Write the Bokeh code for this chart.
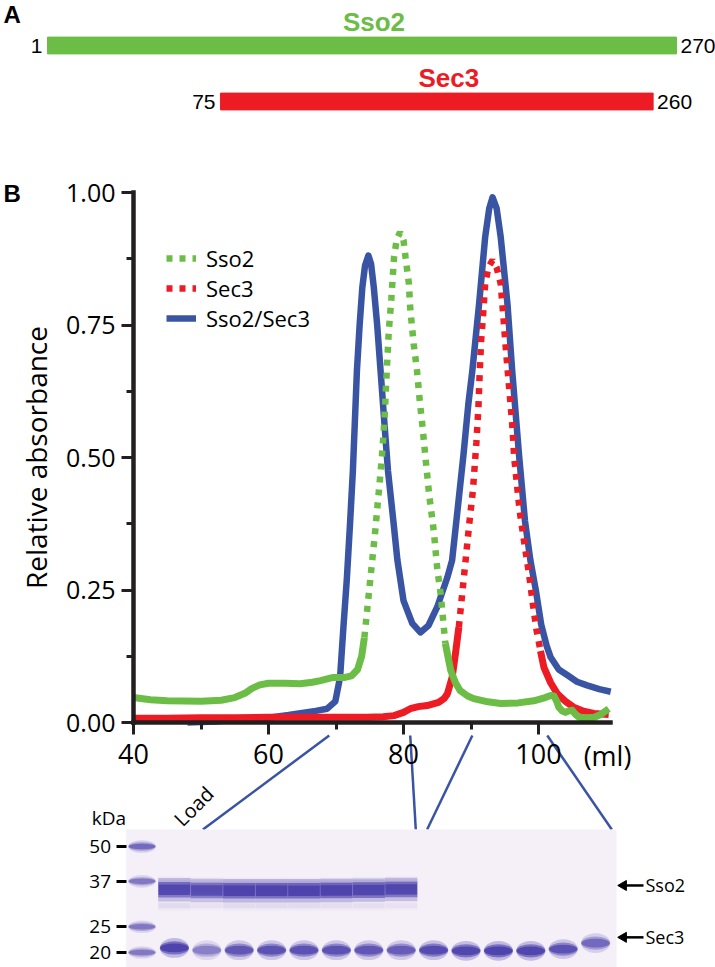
import math
from bokeh.plotting import figure
from bokeh.models import (Range1d, LinearAxis, FixedTicker, PrintfTickFormatter,
                          LogScale, Legend, LegendItem, ColumnDataSource)
from bokeh.core.properties import value
from bokeh.embed import file_html
from bokeh.resources import INLINE

# ---------------- data ----------------
# Panel A: construct boundaries (residue numbers)
construct_names = ["Sso2", "Sec3"]
construct_start = [1, 75]
construct_end = [270, 260]

# Panel B: gel-filtration profiles (elution volume in ml, relative absorbance)
sso2_ml = [40.0, 42.5, 45.0, 50.0, 53.0, 55.0, 56.5, 57.5, 58.7, 60.0, 62.5, 64.7, 66.5, 67.7,
           69.6, 71.3, 72.3, 73.2, 73.8, 74.2, 74.6, 75.0, 75.4, 75.8, 76.3, 76.8, 77.2, 77.5,
           77.8, 78.2, 78.6, 79.0, 79.5, 80.0, 80.3, 80.8, 81.0, 81.5, 82.0, 82.4, 82.8, 83.3,
           83.8, 84.5, 85.0, 85.5, 86.2, 87.0, 87.7, 88.4, 89.5, 90.4, 92.5, 94.4, 97.0, 99.3,
           101.0, 101.8, 102.3, 102.7, 103.0, 103.5, 104.0, 104.5, 105.0, 105.5, 106.0, 107.2,
           108.3, 109.2, 110.4]
sso2_abs = [0.047, 0.043, 0.041, 0.040, 0.042, 0.047, 0.055, 0.064, 0.071, 0.074, 0.074, 0.073,
            0.076, 0.079, 0.085, 0.085, 0.088, 0.100, 0.125, 0.160, 0.210, 0.260, 0.310, 0.360,
            0.430, 0.500, 0.576, 0.658, 0.734, 0.800, 0.878, 0.912, 0.925, 0.910, 0.878, 0.828,
            0.781, 0.715, 0.664, 0.608, 0.560, 0.494, 0.430, 0.360, 0.290, 0.243, 0.149, 0.098,
            0.075, 0.060, 0.050, 0.045, 0.039, 0.036, 0.037, 0.041, 0.047, 0.051, 0.050, 0.040,
            0.029, 0.022, 0.019, 0.022, 0.023, 0.015, 0.010, 0.009, 0.010, 0.015, 0.026]

sec3_ml = [40.0, 45.0, 50.0, 55.0, 60.0, 65.0, 70.0, 74.6, 77.0, 78.6, 80.0, 81.0, 82.2, 83.5,
           85.2, 86.0, 86.5, 87.2, 87.7, 88.2, 88.7, 89.2, 89.7, 90.3, 90.8, 91.1, 91.3, 91.5,
           91.8, 92.1, 92.6, 93.2, 93.8, 94.4, 94.8, 95.1, 95.6, 96.1, 96.4, 97.2, 98.0, 98.6,
           99.2, 99.7, 100.3, 100.8, 101.8, 102.8, 104.0, 105.2, 106.5, 108.2, 110.4]
sec3_abs = [0.008, 0.008, 0.009, 0.009, 0.010, 0.010, 0.010, 0.010, 0.011, 0.013, 0.019, 0.026,
            0.030, 0.032, 0.038, 0.045, 0.054, 0.085, 0.130, 0.180, 0.243, 0.306, 0.370, 0.440,
            0.529, 0.595, 0.664, 0.720, 0.771, 0.828, 0.860, 0.872, 0.858, 0.828, 0.765, 0.715,
            0.639, 0.564, 0.500, 0.400, 0.330, 0.280, 0.220, 0.175, 0.135, 0.104, 0.075, 0.054,
            0.040, 0.029, 0.022, 0.017, 0.015]

complex_ml = [48.0, 52.0, 56.0, 60.0, 63.0, 65.0, 67.0, 68.7, 69.9, 70.6, 71.1, 71.6, 72.1, 72.5,
              73.1, 73.5, 73.9, 74.3, 74.8, 75.2, 75.6, 76.1, 76.6, 77.2, 77.7, 78.5, 79.1, 80.0,
              81.3, 82.5, 83.7, 85.0, 86.5, 87.2, 88.0, 88.9, 89.6, 90.2, 91.2, 92.1, 92.7, 93.2,
              93.8, 94.4, 95.4, 96.1, 97.1, 98.0, 98.8, 99.6, 100.4, 101.2, 101.8, 103.0, 104.3,
              105.7, 107.2, 109.0, 110.7]
complex_abs = [0.000, 0.002, 0.006, 0.009, 0.014, 0.018, 0.022, 0.026, 0.040, 0.085, 0.180, 0.270,
               0.380, 0.475, 0.664, 0.750, 0.821, 0.862, 0.881, 0.865, 0.821, 0.750, 0.664, 0.560,
               0.475, 0.380, 0.306, 0.230, 0.187, 0.170, 0.183, 0.218, 0.274, 0.306, 0.400, 0.507,
               0.600, 0.664, 0.790, 0.916, 0.970, 0.991, 0.970, 0.916, 0.790, 0.664, 0.507, 0.380,
               0.306, 0.250, 0.185, 0.145, 0.123, 0.100, 0.089, 0.077, 0.070, 0.063, 0.058]

series_labels = ["Sso2", "Sec3", "Sso2/Sec3"]
x_ticks = [40, 60, 80, 100]
x_minor_ticks = [50, 70, 90]
y_ticks = [0.0, 0.25, 0.5, 0.75, 1.0]
y_minor_ticks = [0.125, 0.375, 0.625, 0.875]
x_axis_end = 110.7

# Fractions analysed on the gel: elution-volume windows -> gel lanes they were loaded in
fraction_ml_edges = [69.0, 81.0, 90.2, 101.3]
fraction_lane_edges = [1.88, 8.45, 8.8, 14.5]

# Gel (SDS-PAGE): lane 0 = marker, lane 1 = load, lanes 2..14 = fractions
marker_kda = [50, 37, 25, 20]
marker_intensity = [0.6, 0.5, 0.5, 0.5]
sso2_band_lanes = [1, 2, 3, 4, 5, 6, 7, 8]
sso2_band_intensity = [0.9, 0.85, 1.0, 1.0, 1.0, 1.0, 0.95, 0.92]
sso2_band_kda = [34.4, 34.2, 34.1, 34.1, 34.1, 34.2, 34.3, 34.5]
sec3_band_lanes = [1, 2, 3, 4, 5, 6, 7, 8, 9, 10, 11, 12, 13, 14]
sec3_band_intensity = [1.0, 0.45, 0.75, 0.8, 0.8, 0.8, 0.75, 0.7, 0.9, 0.95, 1.0, 0.97, 0.8, 0.6]
sec3_band_kda = [20.8, 20.4, 20.4, 20.4, 20.4, 20.4, 20.4, 20.4, 20.4, 20.3, 20.3, 20.3, 20.6, 21.7]
minor_band_lanes = [1, 2, 3, 4, 5, 6, 7, 8]
minor_band_kda = [30.0, 30.0, 30.0, 30.0, 30.0, 30.0, 30.0, 30.0]
minor_band_intensity = [0.06, 0.04, 0.06, 0.06, 0.06, 0.05, 0.05, 0.04]
gel_band_names = ["Sso2", "Sec3"]
gel_band_label_kda = [35.7, 22.8]
load_label = "Load"

# ---------------- layout (page pixels) ----------------
X0, Y0, W, H = 0, 0, 715, 967

def lin(v1, p1, v2, p2):
    s = (v2 - v1) / (p2 - p1)
    return lambda px: v1 + (px - p1) * s

ml_at = lin(40, 133, 100, 538)
abs_at = lin(0, 722, 1, 192)
res_at = lin(1, 47, 270, 676)
row_at = lin(0, 45, 1, 101)
lane_at = lin(0, 141.5, 1, 173.9)
px_of_lane = lin(141.5, 0, 173.9, 1)
lnk_at = lin(math.log(50), 846, math.log(20), 952)
kda_at = lambda py: math.exp(lnk_at(py))

GREEN = "#6cbd45"
RED = "#ed1c24"
BLUE = "#3a54a4"
BAND = "#4a3fab"
FONT = value("Open Sans")

p = figure(width=W, height=H,
           x_range=Range1d(ml_at(X0), ml_at(X0 + W)),
           y_range=Range1d(abs_at(Y0 + H), abs_at(Y0)),
           x_axis_type=None, y_axis_type=None,
           toolbar_location=None, output_backend="svg")
p.title.visible = False
p.min_border = 0
p.min_border_left = p.min_border_right = p.min_border_top = p.min_border_bottom = 0
p.outline_line_color = None
p.background_fill_color = "white"
p.border_fill_color = "white"

p.extra_x_ranges = {"res": Range1d(res_at(X0), res_at(X0 + W)),
                    "lane": Range1d(lane_at(X0), lane_at(X0 + W))}
p.extra_y_ranges = {"row": Range1d(row_at(Y0 + H), row_at(Y0)),
                    "kda": Range1d(kda_at(Y0 + H), kda_at(Y0))}
p.extra_y_scales = {"kda": LogScale()}

# ---------------- panel A ----------------
rows = list(range(len(construct_names)))
title_dy = 23.5 / 56.0  # rows above the bar centre
srcA = ColumnDataSource(dict(row=rows, start=construct_start, end=construct_end,
                             mid=[(a + b) / 2 for a, b in zip(construct_start, construct_end)],
                             trow=[r - title_dy for r in rows],
                             name=construct_names, color=[GREEN, RED],
                             s_txt=[str(v) for v in construct_start],
                             e_txt=[str(v) for v in construct_end]))
p.hbar(y="row", left="start", right="end", height=0.3, color="color", source=srcA,
       x_range_name="res", y_range_name="row")
p.text(x="mid", y="trow", text="name", text_color="color", source=srcA,
       x_range_name="res", y_range_name="row", text_align="center",
       text_baseline="middle", x_offset=12,
       text_font=value("Liberation Sans"), text_font_style="bold", text_font_size="26px")
p.text(x="start", y="row", text="s_txt", source=srcA, x_range_name="res", y_range_name="row",
       text_align="right", text_baseline="middle", x_offset=-5,
       text_font=value("Liberation Sans"), text_font_size="21px", text_color="black")
p.text(x="end", y="row", text="e_txt", source=srcA, x_range_name="res", y_range_name="row",
       text_align="left", text_baseline="middle", x_offset=4,
       text_font=value("Liberation Sans"), text_font_size="21px", text_color="black")

# panel letters
p.text(x=[ml_at(3), ml_at(3)], y=[abs_at(14), abs_at(193)], text=["A", "B"],
       text_align="left", text_baseline="middle", text_font=value("Liberation Sans"),
       text_font_style="bold", text_font_size="24px", text_color="black")

# ---------------- panel B: chromatogram ----------------
def runs(xs, ys, thr):
    out = []
    cur_x, cur_y = [xs[0]], [ys[0]]
    flag = ys[0] >= thr
    for x, y in zip(xs[1:], ys[1:]):
        f = y >= thr
        cur_x.append(x); cur_y.append(y)
        if f != flag:
            out.append((cur_x, cur_y, flag))
            cur_x, cur_y = [x], [y]
            flag = f
    out.append((cur_x, cur_y, flag))
    return out

blue_r = p.line(complex_ml, complex_abs, line_color=BLUE, line_width=6.5, line_join="round")

def dotted_series(xs, ys, color):
    dot_r = None
    for rx, ry, dotted in runs(xs, ys, 0.15):
        if dotted:
            dot_r = p.line(rx, ry, line_color=color, line_width=6.5, line_dash="6 7",
                           line_cap="butt")
        else:
            p.line(rx, ry, line_color=color, line_width=7, line_join="round")
    return dot_r

red_r = dotted_series(sec3_ml, sec3_abs, RED)
green_r = dotted_series(sso2_ml, sso2_abs, GREEN)

yaxis = LinearAxis(fixed_location=40, bounds=(0, 1),
                   ticker=FixedTicker(ticks=y_ticks, minor_ticks=y_minor_ticks),
                   formatter=PrintfTickFormatter(format="%.2f"),
                   axis_label="Relative absorbance")
xaxis = LinearAxis(fixed_location=0, bounds=(40, x_axis_end),
                   ticker=FixedTicker(ticks=x_ticks, minor_ticks=x_minor_ticks))
for ax, fs in ((yaxis, "25px"), (xaxis, "27px")):
    ax.axis_line_width = 4.5
    ax.axis_line_color = "#231f20"
    ax.axis_line_cap = "square"
    ax.major_tick_line_width = 3
    ax.minor_tick_line_width = 3
    ax.major_tick_line_color = "#231f20"
    ax.minor_tick_line_color = "#231f20"
    ax.major_tick_out = 12
    ax.major_tick_in = 0
    ax.minor_tick_out = 7
    ax.minor_tick_in = 0
    ax.major_label_text_font = "Open Sans"
    ax.major_label_text_font_size = fs
    ax.major_label_text_color = "black"
yaxis.major_label_standoff = 6
xaxis.major_label_standoff = 9
yaxis.axis_label_text_font = "Open Sans"
yaxis.axis_label_text_font_size = "28px"
yaxis.axis_label_text_font_style = "normal"
yaxis.axis_label_text_color = "black"
yaxis.axis_label_standoff = 8
p.add_layout(yaxis, "left")
p.add_layout(xaxis, "below")

p.text(x=[ml_at(607)], y=[abs_at(755)], text=["(ml)"], text_align="center",
       text_baseline="middle", text_font=FONT, text_font_size="27px", text_color="black")

legend = Legend(items=[LegendItem(label=series_labels[0], renderers=[green_r]),
                       LegendItem(label=series_labels[1], renderers=[red_r]),
                       LegendItem(label=series_labels[2], renderers=[blue_r])],
                location=(166 - X0, (Y0 + H) - 333), orientation="vertical",
                background_fill_alpha=0, border_line_color=None, padding=0, spacing=0,
                margin=0, glyph_width=30, glyph_height=30, label_height=30,
                label_standoff=10, label_text_font="Open Sans", label_text_font_size="22px",
                label_text_color="black")
p.add_layout(legend)

# connectors between chromatogram and gel
top_y = abs_at(735)
bot_y = abs_at(829)
bot_ml = [ml_at(px_of_lane(l)) for l in fraction_lane_edges]
p.segment(x0=fraction_ml_edges, y0=[top_y] * 4, x1=bot_ml, y1=[bot_y] * 4,
          line_color=BLUE, line_width=2.5)

# ---------------- gel ----------------
gel_left, gel_right = lane_at(125.6), lane_at(616)
gel_top, gel_bottom = kda_at(829), kda_at(1000)
p.quad(left=[gel_left], right=[gel_right], bottom=[gel_bottom], top=[gel_top],
       fill_color="#f5eff7", line_color=None, x_range_name="lane", y_range_name="kda")

def bands(lanes, kda, inten, width, h_px, shape="ellipse"):
    layers = [(1.0, 1.8, 0.3), (1.0, 1.2, 0.6), (0.97, 0.8, 0.9)]
    for wf, hf, af in layers:
        src = ColumnDataSource(dict(x=lanes, y=kda, a=[min(1.0, af * v) for v in inten]))
        kw = dict(x="x", y="y", width=width * wf, height=h_px * hf, height_units="screen",
                  fill_color=BAND, fill_alpha="a", line_color=None, source=src,
                  x_range_name="lane", y_range_name="kda")
        if shape == "ellipse":
            p.ellipse(**kw)
        else:
            p.rect(**kw)

bands([0] * len(marker_kda), marker_kda, marker_intensity, 0.85, 7)
bands(minor_band_lanes, minor_band_kda, minor_band_intensity, 1.0, 6, shape="rect")
bands(sso2_band_lanes, [k * 1.035 for k in sso2_band_kda],
      [0.15 * v for v in sso2_band_intensity], 1.0, 10, shape="rect")
bands(sso2_band_lanes, sso2_band_kda, sso2_band_intensity, 1.0, 13, shape="rect")
bands(sec3_band_lanes, sec3_band_kda, sec3_band_intensity, 0.9, 11)

gel_axis = LinearAxis(x_range_name="lane", y_range_name="kda", fixed_location=gel_left,
                      ticker=FixedTicker(ticks=marker_kda, minor_ticks=[]),
                      formatter=PrintfTickFormatter(format="%d"))
gel_axis.axis_line_color = None
gel_axis.major_tick_out = 10
gel_axis.major_tick_in = 0
gel_axis.major_tick_line_width = 3
gel_axis.major_tick_line_color = "black"
gel_axis.major_label_standoff = 5
gel_axis.major_label_text_font = "Open Sans"
gel_axis.major_label_text_font_size = "19px"
gel_axis.major_label_text_color = "black"
p.add_layout(gel_axis, "left")

p.text(x=[gel_left], y=[kda_at(817)], text=["kDa"], x_range_name="lane", y_range_name="kda",
       text_align="right", text_baseline="middle", text_font=FONT, text_font_size="19px",
       text_color="black")
p.text(x=[lane_at(177)], y=[kda_at(822)], text=[load_label], angle=math.pi / 4,
       x_range_name="lane", y_range_name="kda", text_align="left",
       text_baseline="alphabetic", text_font=FONT, text_font_size="20px", text_color="black")

# arrows + labels for the gel bands
n = len(gel_band_names)
p.segment(x0=[lane_at(643)] * n, y0=gel_band_label_kda, x1=[lane_at(624)] * n,
          y1=gel_band_label_kda, line_color="black", line_width=2.5,
          x_range_name="lane", y_range_name="kda")
p.scatter(x=[lane_at(623)] * n, y=gel_band_label_kda, marker="triangle", size=10,
          angle=math.pi / 2, fill_color="black", line_color="black",
          x_range_name="lane", y_range_name="kda")
p.text(x=[lane_at(645)] * n, y=gel_band_label_kda, text=gel_band_names,
       x_range_name="lane", y_range_name="kda", text_align="left", text_baseline="middle",
       text_font=FONT, text_font_size="18px", text_color="black")

open("out.html", "w").write(file_html(p, INLINE))
